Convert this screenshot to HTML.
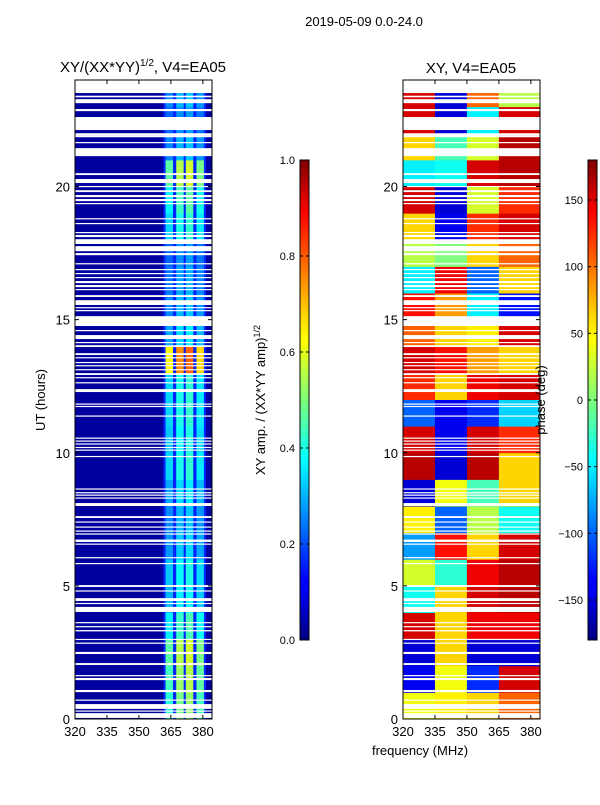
<!DOCTYPE html>
<html><head><meta charset="utf-8"><style>
body{margin:0;background:#fff;}
svg text{font-family:"Liberation Sans",sans-serif;fill:#000;}
</style></head><body>
<svg id="fig" width="600" height="800" xmlns="http://www.w3.org/2000/svg">
<defs>
<linearGradient id="jet" x1="0" y1="1" x2="0" y2="0">
<stop offset="0" stop-color="#00007f"/><stop offset="0.11" stop-color="#0000ff"/><stop offset="0.125" stop-color="#0000ff"/><stop offset="0.34" stop-color="#00dbff"/><stop offset="0.375" stop-color="#0ff"/><stop offset="0.5" stop-color="#7dff7a"/><stop offset="0.625" stop-color="#ff0"/><stop offset="0.66" stop-color="#ffe600"/><stop offset="0.89" stop-color="#ff0000"/><stop offset="1" stop-color="#7f0000"/>
</linearGradient>
</defs>
<text x="364" y="26" font-size="13" text-anchor="middle">2019-05-09 0.0-24.0</text>
<text x="143" y="72" font-size="15" text-anchor="middle">XY/(XX*YY)<tspan font-size="10" dy="-6">1/2</tspan><tspan dy="6">, V4=EA05</tspan></text>
<text x="471" y="73" font-size="15" text-anchor="middle">XY, V4=EA05</text>
<text transform="translate(45,400) rotate(-90)" font-size="13" text-anchor="middle">UT (hours)</text>
<text x="420" y="755" font-size="13" text-anchor="middle">frequency (MHz)</text>
<g id="left"></g>
<g id="right"></g>
<rect x="300" y="160" width="9" height="480" fill="url(#jet)" stroke="#000" stroke-width="1"/>
<rect x="588" y="160" width="9" height="480" fill="url(#jet)" stroke="#000" stroke-width="1"/>
<g id="cb"></g>
<text transform="translate(265,400) rotate(-90)" font-size="13" text-anchor="middle">XY amp. / (XX*YY amp)<tspan font-size="9" dy="-5">1/2</tspan></text>
<text transform="translate(545,400) rotate(-90)" font-size="13" text-anchor="middle">phase (deg)</text>
</svg>
<script>
const freqTicks=[320,335,350,365,380];
const hourTicks=[0,5,10,15,20];
const ampTicks=[0.0,0.2,0.4,0.6,0.8,1.0];
const phaseTicks=[-150,-100,-50,0,50,100,150];
const flags=[[23.51,24],[23.35,23.41],[23.13,23.28],[22.83,22.91],[22.12,22.61],[21.9,22.0],[21.85,21.9],[21.63,21.67],[21.14,21.44],[20.43,20.5],[20.13,20.28],[19.98,20.02],[19.79,19.86],[19.6,19.68],[19.45,19.53],[19.34,19.38],[18.78,18.81],[18.59,18.63],[18.25,18.29],[18.1,18.18],[17.84,18.02],[17.57,17.76],[17.42,17.5],[17.09,17.12],[16.86,16.9],[16.71,16.75],[16.56,16.6],[16.37,16.45],[16.22,16.3],[16.11,16.15],[15.85,15.92],[15.55,15.73],[15.43,15.47],[15.32,15.36],[14.76,15.13],[14.57,14.61],[14.27,14.42],[14.12,14.16],[13.97,14.04],[13.67,13.74],[13.56,13.59],[13.37,13.41],[13.26,13.29],[13.11,13.14],[12.92,12.99],[12.81,12.84],[12.62,12.65],[12.28,12.39],[11.81,11.85],[11.72,11.76],[11.36,11.4],[10.53,10.57],[10.42,10.46],[10.31,10.35],[10.18,10.22],[10.08,10.12],[9.84,9.88],[8.62,8.66],[8.48,8.52],[8.39,8.43],[8.28,8.32],[8.0,8.11],[7.55,7.62],[7.38,7.42],[7.19,7.23],[7.04,7.08],[6.93,6.97],[6.65,6.74],[6.55,6.59],[6.04,6.08],[5.82,5.86],[4.96,5.03],[4.79,4.83],[4.43,4.54],[4.32,4.36],[4.02,4.21],[3.6,3.64],[3.45,3.49],[3.29,3.34],[2.97,3.01],[2.83,2.87],[2.44,2.52],[2.03,2.1],[1.61,1.65],[1.46,1.54],[1.01,1.09],[0.69,0.73],[0.38,0.56],[0.28,0.32],[0.04,0.22]];
const bandAmp=[0.52,0.55,0.58,0.45,0.38,0.4,0.34,0.32,0.36,0.42,0.4,0.42,0.42,0.78,0.36,0.32,0.3,0.28,0.42,0.46,0.58,0.32,0.28,0.32];
const bandFactor=[0.8,0.95,1.0,0.85];
const bandFreqs=[[362.5,366],[367.5,371],[372,375.5],[377,380.5]];
const segEdges=[320,335,350,365,384.3];
const phase=[[40,50,60,100],[-140,40,-120,150],[-150,60,-150,-150],[150,60,140,140],[-40,60,150,160],[30,-30,140,160],[-80,130,60,150],[50,-100,20,-40],[-150,40,-20,60],[160,-150,160,60],[150,-140,150,120],[-100,-140,-120,-60],[120,60,140,150],[150,130,80,60],[100,60,50,150],[130,80,-50,-130],[-50,140,-100,60],[20,0,60,100],[60,-140,120,150],[150,-150,30,120],[-50,-40,150,160],[60,-20,30,160],[150,-150,-50,150],[150,-150,100,20]];

function jet(v){v=Math.max(0,Math.min(1,v));
 const r=Math.max(0,Math.min(1,1.5-Math.abs(4*v-3))),g=Math.max(0,Math.min(1,1.5-Math.abs(4*v-2))),b=Math.max(0,Math.min(1,1.5-Math.abs(4*v-1)));
 return `rgb(${Math.round(r*255)},${Math.round(g*255)},${Math.round(b*255)})`;}
const NS='http://www.w3.org/2000/svg';
function mk(p,tag,at){const e=document.createElementNS(NS,tag);for(const k in at)e.setAttribute(k,at[k]);p.appendChild(e);return e;}
const Y0=719,Y1=80,H=24;
function yS(h){return Y0-(h/H)*(Y0-Y1);}
function xS(x0,f){return x0+(f-320)*(137/64.3);}

function panel(g,x0,fill){
 fill(g,x0);
 flags.forEach(fl=>{const r=mk(g,'rect',{x:x0,y:yS(fl[1]),width:137,height:Math.max(1.2,yS(fl[0])-yS(fl[1])),fill:'#fff'});
  
  });
 mk(g,'rect',{x:x0,y:Y1,width:137,height:Y0-Y1,fill:'none',stroke:'#000','stroke-width':1});
 freqTicks.forEach(f=>{const x=xS(x0,f);
  mk(g,'line',{x1:x,x2:x,y1:Y0,y2:Y0-4,stroke:'#000'});mk(g,'line',{x1:x,x2:x,y1:Y1,y2:Y1+4,stroke:'#000'});
  const t=mk(g,'text',{x:x,y:Y0+17,'font-size':13,'text-anchor':'middle'});t.textContent=f;
  
  });
 hourTicks.forEach(h=>{const y=yS(h);
  mk(g,'line',{x1:x0,x2:x0+4,y1:y,y2:y,stroke:'#000'});mk(g,'line',{x1:x0+137,x2:x0+133,y1:y,y2:y,stroke:'#000'});
  const t=mk(g,'text',{x:x0-5,y:y+5,'font-size':13,'text-anchor':'end'});t.textContent=h;
  
  });
}
panel(document.getElementById('left'),75,(g,x0)=>{
 mk(g,'rect',{x:x0,y:Y1,width:137,height:Y0-Y1,fill:jet(0.03)});
 mk(g,'rect',{x:xS(x0,361.5),y:Y1,width:xS(x0,381.5)-xS(x0,361.5),height:Y0-Y1,fill:jet(0.16)});
 bandAmp.forEach((a,i)=>{bandFreqs.forEach((bf,j)=>{
  const r=mk(g,'rect',{x:xS(x0,bf[0]),y:yS(i+1),width:xS(x0,bf[1])-xS(x0,bf[0]),height:yS(i)-yS(i+1)+0.5,fill:jet(a*bandFactor[j])});
  
  });});
});
panel(document.getElementById('right'),403,(g,x0)=>{
 phase.forEach((row,i)=>{row.forEach((p,j)=>{
  const r=mk(g,'rect',{x:xS(x0,segEdges[j]),y:yS(i+1),width:xS(x0,segEdges[j+1])-xS(x0,segEdges[j])+0.5,height:yS(i)-yS(i+1)+0.5,fill:jet((p+180)/360)});
  
  });});
});
const cb=document.getElementById('cb');
ampTicks.forEach(v=>{const y=640-v*480;
 mk(cb,'line',{x1:300,x2:303,y1:y,y2:y,stroke:'#000'});mk(cb,'line',{x1:309,x2:306,y1:y,y2:y,stroke:'#000'});
 const t=mk(cb,'text',{x:295,y:y+4,'font-size':11,'text-anchor':'end'});t.textContent=v.toFixed(1);
 
 });
phaseTicks.forEach(v=>{const y=400-v*480/360;
 mk(cb,'line',{x1:588,x2:591,y1:y,y2:y,stroke:'#000'});mk(cb,'line',{x1:597,x2:594,y1:y,y2:y,stroke:'#000'});
 const t=mk(cb,'text',{x:583,y:y+4,'font-size':11,'text-anchor':'end'});t.textContent=v<0?'\u2212'+(-v):v;
 
 });
</script>
</body></html>
